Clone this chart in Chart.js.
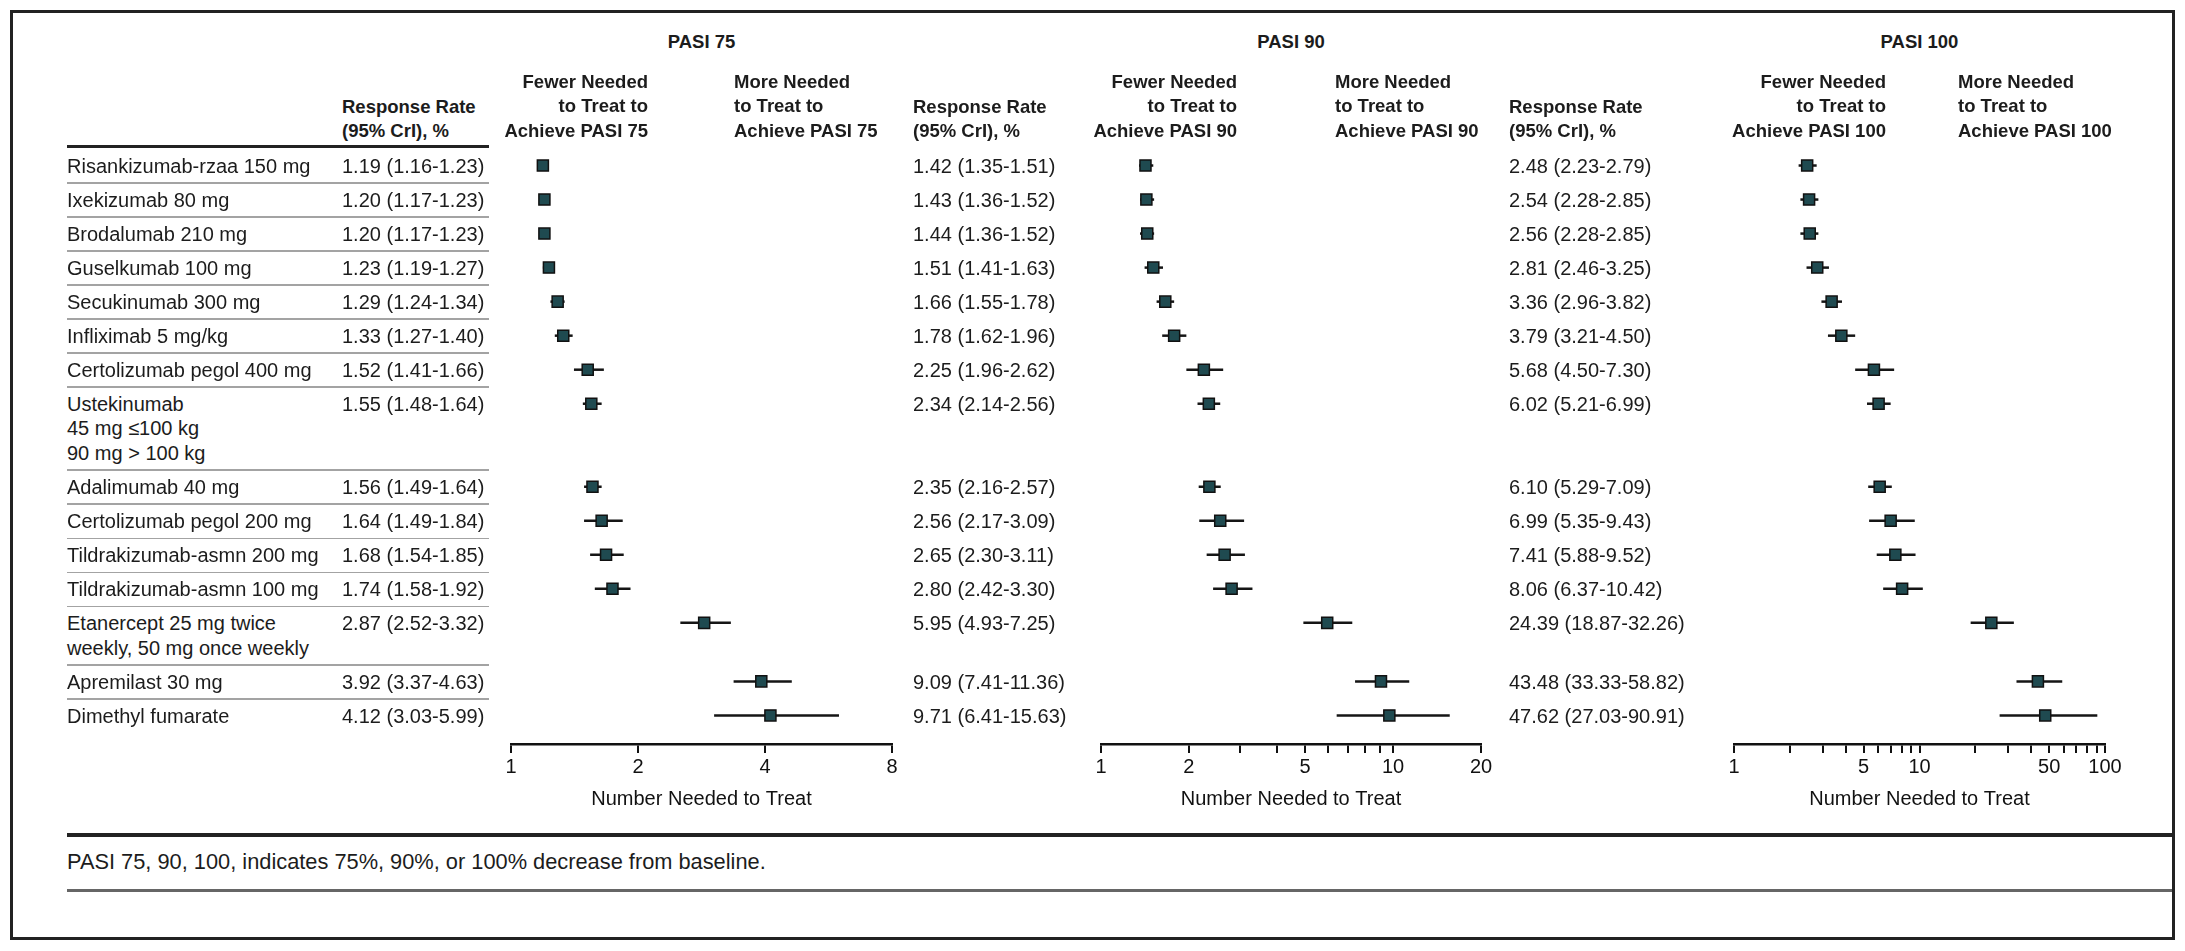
<!DOCTYPE html>
<html>
<head>
<meta charset="utf-8">
<script src="https://cdn.jsdelivr.net/npm/chart.js@4.4.1/dist/chart.umd.min.js"></script>
<style>
  html, body { margin: 0; padding: 0; background: #fff; }
  #page { position: relative; width: 2185px; height: 951px; overflow: hidden;
          font-family: "Liberation Sans", Arial, sans-serif; color: #1c1c1c; }
  .t { position: absolute; white-space: pre; font-size: 20px; line-height: 24.5px; }
  .b { font-weight: bold; font-size: 18.5px; }
  .foot { font-size: 21.8px; }
  .rule { position: absolute; }
  canvas { position: absolute; }
</style>
</head>
<body>
<div id="page"></div>
<script>
const drugs = [
    "Risankizumab-rzaa 150 mg",
    "Ixekizumab 80 mg",
    "Brodalumab 210 mg",
    "Guselkumab 100 mg",
    "Secukinumab 300 mg",
    "Infliximab 5 mg/kg",
    "Certolizumab pegol 400 mg",
    "Ustekinumab\n45 mg \u2264100 kg\n90 mg > 100 kg",
    "Adalimumab 40 mg",
    "Certolizumab pegol 200 mg",
    "Tildrakizumab-asmn 200 mg",
    "Tildrakizumab-asmn 100 mg",
    "Etanercept 25 mg twice\nweekly, 50 mg once weekly",
    "Apremilast 30 mg",
    "Dimethyl fumarate"
];

const pasi75NNT  = [1.19, 1.20, 1.20, 1.23, 1.29, 1.33, 1.52, 1.55, 1.56, 1.64, 1.68, 1.74, 2.87, 3.92, 4.12];
const pasi75Low  = [1.16, 1.17, 1.17, 1.19, 1.24, 1.27, 1.41, 1.48, 1.49, 1.49, 1.54, 1.58, 2.52, 3.37, 3.03];
const pasi75High = [1.23, 1.23, 1.23, 1.27, 1.34, 1.40, 1.66, 1.64, 1.64, 1.84, 1.85, 1.92, 3.32, 4.63, 5.99];

const pasi90NNT  = [1.42, 1.43, 1.44, 1.51, 1.66, 1.78, 2.25, 2.34, 2.35, 2.56, 2.65, 2.80, 5.95, 9.09, 9.71];
const pasi90Low  = [1.35, 1.36, 1.36, 1.41, 1.55, 1.62, 1.96, 2.14, 2.16, 2.17, 2.30, 2.42, 4.93, 7.41, 6.41];
const pasi90High = [1.51, 1.52, 1.52, 1.63, 1.78, 1.96, 2.62, 2.56, 2.57, 3.09, 3.11, 3.30, 7.25, 11.36, 15.63];

const pasi100NNT  = [2.48, 2.54, 2.56, 2.81, 3.36, 3.79, 5.68, 6.02, 6.10, 6.99, 7.41, 8.06, 24.39, 43.48, 47.62];
const pasi100Low  = [2.23, 2.28, 2.28, 2.46, 2.96, 3.21, 4.50, 5.21, 5.29, 5.35, 5.88, 6.37, 18.87, 33.33, 27.03];
const pasi100High = [2.79, 2.85, 2.85, 3.25, 3.82, 4.50, 7.30, 6.99, 7.09, 9.43, 9.52, 10.42, 32.26, 58.82, 90.91];

const panelTitles = ["PASI 75", "PASI 90", "PASI 100"];

const pasi75Ticks = [1, 2, 4, 8];
const pasi75TickLabels = [1, 2, 4, 8];
const pasi90Ticks = [1, 2, 3, 4, 5, 6, 7, 8, 9, 10, 20];
const pasi90TickLabels = [1, 2, 5, 10, 20];
const pasi100Ticks = [1, 2, 3, 4, 5, 6, 7, 8, 9, 10, 20, 30, 40, 50, 60, 70, 80, 90, 100];
const pasi100TickLabels = [1, 5, 10, 50, 100];

const footnote = "PASI 75, 90, 100, indicates 75%, 90%, or 100% decrease from baseline.";

// ---- layout (page pixels) ----
const FONT = "'Liberation Sans', Arial, sans-serif";
const PAGE_W = 2185;
const ROW0 = 166;        // first row centre
const ROW_PX = 34;       // row pitch
const LINE_GAP = 0.72;   // extra row units per extra text line
const PAD = 30;

const panels = [
    { title: panelTitles[0], nnt: pasi75NNT, lo: pasi75Low, hi: pasi75High, max: 8,
      ticks: pasi75Ticks, labels: pasi75TickLabels, axisL: 511, axisR: 892, rateX: 342, fewerR: 648, moreL: 734 },
    { title: panelTitles[1], nnt: pasi90NNT, lo: pasi90Low, hi: pasi90High, max: 20,
      ticks: pasi90Ticks, labels: pasi90TickLabels, axisL: 1101, axisR: 1481, rateX: 913, fewerR: 1237, moreL: 1335 },
    { title: panelTitles[2], nnt: pasi100NNT, lo: pasi100Low, hi: pasi100High, max: 100,
      ticks: pasi100Ticks, labels: pasi100TickLabels, axisL: 1734, axisR: 2105, rateX: 1509, fewerR: 1886, moreL: 1958 }
];

// row positions (in row units), taller rows for multi-line labels
const rowPos = [];
let acc = 0;
drugs.forEach(d => {
    rowPos.push(acc);
    acc += 1 + (d.split("\n").length - 1) * LINE_GAP;
});
const yMin = -0.75;
const yMax = rowPos[rowPos.length - 1] + 0.84;

const page = document.getElementById("page");

function addText(txt, x, y, cls, align) {
    const el = document.createElement("div");
    el.className = "t " + (cls || "");
    el.textContent = txt;
    el.style.top = (y - 12.25) + "px";
    if (align === "right") {
        el.style.right = (PAGE_W - x) + "px";
        el.style.textAlign = "right";
    } else if (align === "center") {
        el.style.left = x + "px";
        el.style.transform = "translateX(-50%)";
        el.style.textAlign = "center";
    } else {
        el.style.left = x + "px";
    }
    page.appendChild(el);
    return el;
}

function addRule(x, y, w, h, color) {
    const el = document.createElement("div");
    el.className = "rule";
    el.style.left = x + "px";
    el.style.top = y + "px";
    el.style.width = w + "px";
    el.style.height = h + "px";
    el.style.background = color;
    page.appendChild(el);
}

function makeChart(p, height) {
    const canvas = document.createElement("canvas");
    const w = p.axisR - p.axisL + 2 * PAD;
    canvas.width = w;
    canvas.height = height;
    canvas.style.width = w + "px";
    canvas.style.height = height + "px";
    page.appendChild(canvas);

    const whiskers = p.lo.map((lo, i) => ({
        data: [{ x: lo, y: rowPos[i] }, { x: p.hi[i], y: rowPos[i] }],
        showLine: true,
        pointRadius: 0,
        borderColor: "#151515",
        borderWidth: 2.5,
        order: 1
    }));

    const chart = new Chart(canvas, {
        type: "scatter",
        data: {
            datasets: [{
                data: p.nnt.map((v, i) => ({ x: v, y: rowPos[i] })),
                pointStyle: "rect",
                pointRadius: 7.8,
                backgroundColor: "#1f4a50",
                borderColor: "#111",
                borderWidth: 1.5,
                order: 0
            }].concat(whiskers)
        },
        options: {
            responsive: false,
            animation: false,
            devicePixelRatio: 1,
            layout: { padding: { left: PAD, right: PAD, top: 10, bottom: 8 } },
            plugins: { legend: { display: false }, tooltip: { enabled: false } },
            scales: {
                y: { type: "linear", display: false, reverse: true, min: yMin, max: yMax },
                x: {
                    type: "logarithmic",
                    position: "bottom",
                    min: 1,
                    max: p.max,
                    afterBuildTicks: s => { s.ticks = p.ticks.map(v => ({ value: v })); },
                    ticks: {
                        autoSkip: false,
                        maxRotation: 0,
                        padding: 2,
                        color: "#111",
                        font: { size: 20, family: FONT },
                        callback: v => p.labels.includes(v) ? String(v) : ""
                    },
                    grid: { drawOnChartArea: false, drawTicks: true, tickLength: 9, color: "#111", lineWidth: 2 },
                    border: { display: true, color: "#111", width: 2.5 },
                    title: {
                        display: true,
                        text: "Number Needed to Treat",
                        color: "#111",
                        font: { size: 20, family: FONT },
                        padding: { top: 6, bottom: 0 }
                    }
                }
            }
        }
    });
    return { chart, canvas };
}

// outer frame
const frame = document.createElement("div");
frame.style.cssText = "position:absolute;left:10px;top:10px;width:2165px;height:930px;border:3px solid #222;box-sizing:border-box;";
page.appendChild(frame);

let refChart = null, refTop = 0;
const wantH = (yMax - yMin) * ROW_PX;

panels.forEach(p => {
    let built = makeChart(p, 700);
    const diff = Math.round(wantH - built.chart.chartArea.height);
    if (diff !== 0) {
        built.chart.destroy();
        built.canvas.remove();
        built = makeChart(p, 700 + diff);
    }
    const top = ROW0 - built.chart.scales.y.getPixelForValue(0);
    built.canvas.style.top = top + "px";
    built.canvas.style.left = (p.axisL - built.chart.scales.x.left) + "px";
    if (!refChart) { refChart = built.chart; refTop = top; }
});

const rowY = i => refTop + refChart.scales.y.getPixelForValue(rowPos[i]);

// panel headings
panels.forEach(p => {
    addText(p.title, (p.axisL + p.axisR) / 2, 42, "b", "center");
    addText("Response Rate\n(95% CrI), %", p.rateX, 107, "b");
    addText("Fewer Needed\nto Treat to\nAchieve " + p.title, p.fewerR, 82, "b", "right");
    addText("More Needed\nto Treat to\nAchieve " + p.title, p.moreL, 82, "b");
});

// table header rule
addRule(67, 145, 422, 3, "#222");

// rows
drugs.forEach((d, i) => {
    const y = rowY(i);
    addText(d, 67, y);
    panels.forEach(p => {
        addText(p.nnt[i].toFixed(2) + " (" + p.lo[i].toFixed(2) + "-" + p.hi[i].toFixed(2) + ")", p.rateX, y);
    });
    if (i < drugs.length - 1) {
        const lastLine = y + (d.split("\n").length - 1) * 24.5;
        const sepY = (lastLine + rowY(i + 1)) / 2;
        addRule(67, sepY - 0.75, 422, 1.5, "#a3a3a3");
    }
});

// footnote
addRule(67, 833, 2105, 4, "#222");
addText(footnote, 67, 862, "foot");
addRule(67, 889, 2105, 2.5, "#666");
</script>
</body>
</html>
